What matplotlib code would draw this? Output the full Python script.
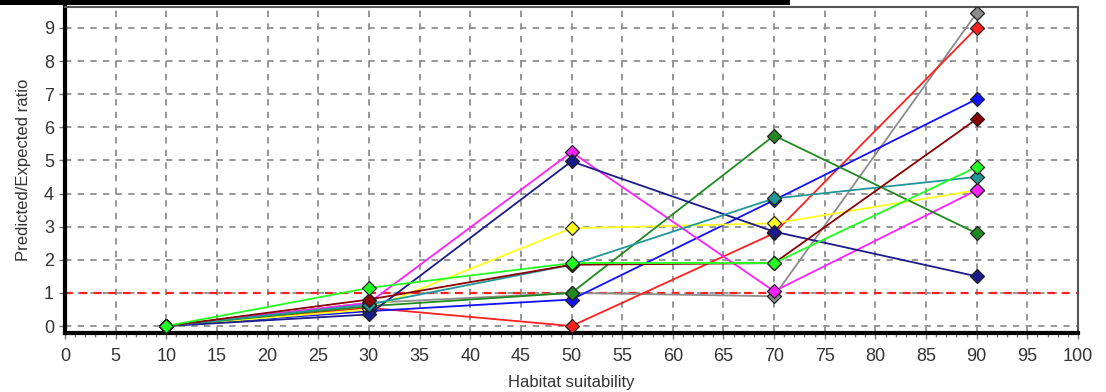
import matplotlib
matplotlib.use("Agg")
import matplotlib.pyplot as plt
from matplotlib.patches import Rectangle
from matplotlib.ticker import MultipleLocator

plt.rcParams['font.family'] = ['Liberation Sans', 'DejaVu Sans']

suitability = [10, 30, 50, 70, 90]
series_names = ["gray", "red", "blue", "yellow", "magenta", "darkgreen", "navy", "teal", "darkred", "lime"]
gray_vals = [0, 0.70, 1.00, 0.90, 9.45]
red_vals = [0, 0.55, 0.00, 2.80, 9.00]
darkred_vals = [0, 0.80, 1.85, 1.90, 6.25]
blue_vals = [0, 0.45, 0.80, 3.80, 6.85]
teal_vals = [0, 0.65, 1.85, 3.85, 4.50]
yellow_vals = [0, 0.50, 2.95, 3.10, 4.10]
magenta_vals = [0, 0.70, 5.25, 1.05, 4.10]
darkgreen_vals = [0, 0.60, 1.00, 5.75, 2.80]
lime_vals = [0, 1.15, 1.90, 1.90, 4.80]
navy_vals = [0, 0.35, 4.97, 2.85, 1.50]
reference_ratio = 1.0

colors = {
    "gray": "#8c8c8c", "red": "#ff2020", "darkred": "#8b0000", "blue": "#1010ff",
    "teal": "#209898", "yellow": "#ffff20", "magenta": "#ff20ff",
    "darkgreen": "#1f8a1f", "lime": "#20ff20", "navy": "#1a1a8c",
}
values = {
    "gray": gray_vals, "red": red_vals, "darkred": darkred_vals, "blue": blue_vals,
    "teal": teal_vals, "yellow": yellow_vals, "magenta": magenta_vals,
    "darkgreen": darkgreen_vals, "lime": lime_vals, "navy": navy_vals,
}

fig = plt.figure(figsize=(11.06, 3.92), dpi=100)
ax = fig.add_axes([65/1106, 1 - 333/392, (1078 - 65)/1106, (333 - 7)/392])

ax.set_xlim(0, 100)
ax.set_ylim(-0.21, 9.63)

ax.xaxis.set_major_locator(MultipleLocator(5))
ax.xaxis.set_minor_locator(MultipleLocator(1))
ax.set_yticks(range(0, 10))

ax.grid(True, which='major', color='#8f8f8f', linestyle=(0, (3.5, 3.5)), linewidth=1.3)
ax.set_axisbelow(True)

ax.axhline(reference_ratio, color='#ff2020', linestyle=(0, (3.5, 3)), linewidth=1.6, zorder=2)

for i, name in enumerate(series_names):
    ax.plot(suitability, values[name], color=colors[name], linewidth=1.3,
            marker='D', markersize=7, markeredgecolor='#202020',
            markeredgewidth=0.9, zorder=3 + i)

for side in ['left', 'bottom']:
    ax.spines[side].set_linewidth(3)
    ax.spines[side].set_color('black')
ax.spines['top'].set_linewidth(1.5)
ax.spines['top'].set_color('#555555')
ax.spines['right'].set_linewidth(1.5)
ax.spines['right'].set_color('#555555')
ax.spines['right'].set_linestyle((0, (3, 1)))

ax.tick_params(axis='x', which='major', direction='out', length=4, width=1,
               color='#777777', labelsize=13, labelcolor='#333333', pad=7)
ax.tick_params(axis='y', which='major', direction='out', length=4, width=1,
               color='#777777', labelsize=13, labelcolor='#333333', pad=4)
ax.tick_params(axis='x', which='minor', direction='out', length=3, width=1, color='#777777')

ax.set_xlabel("Habitat suitability", fontsize=12, color='#333333', labelpad=7)
ax.set_ylabel("Predicted/Expected ratio", fontsize=12, color='#333333', labelpad=9)

fig.add_artist(Rectangle((0, 1 - 5/392), 790/1106, 5/392, transform=fig.transFigure,
                         facecolor='black', edgecolor='none'))

fig.savefig("out.png", dpi=100)
